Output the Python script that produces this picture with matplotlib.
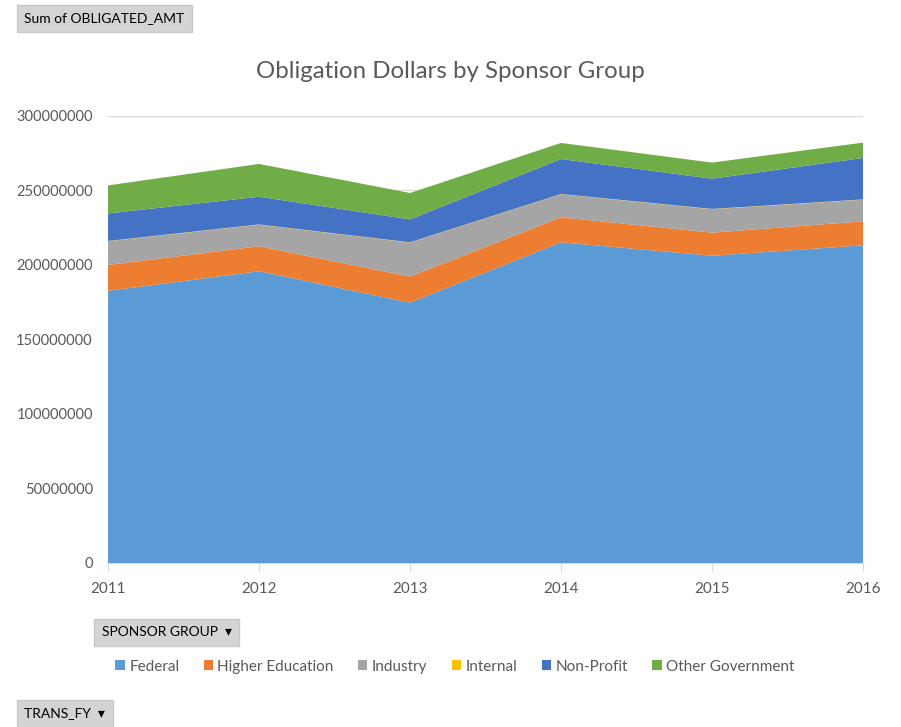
import matplotlib.pyplot as plt
import numpy as np

plt.rcParams['font.family'] = ['Lato', 'DejaVu Sans']

years = [2011, 2012, 2013, 2014, 2015, 2016]
groups = ['Federal', 'Higher Education', 'Industry', 'Internal', 'Non-Profit', 'Other Government']
# values in millions of dollars
federal = [182.6, 195.8, 174.7, 215.2, 206.2, 213.2]
higher_ed = [17.4, 16.8, 17.5, 16.8, 15.5, 16.1]
industry = [15.9, 14.4, 22.8, 15.4, 15.7, 14.5]
internal = [0.2, 0.2, 0.2, 0.2, 0.2, 0.2]
non_profit = [18.5, 18.6, 15.4, 23.5, 20.3, 27.8]
other_gov = [18.8, 22.0, 17.7, 10.8, 10.8, 10.3]
colors = ['#5B9BD5', '#ED7D31', '#A5A5A5', '#FFC000', '#4472C4', '#70AD47']

data = np.array([federal, higher_ed, industry, internal, non_profit, other_gov]) * 1e6

fig = plt.figure(figsize=(9.01, 7.27), dpi=100)
ax = fig.add_axes([0.1199, 0.2256, 0.838, 0.6149])
ax.stackplot(years, data, colors=colors, labels=groups, linewidth=0)

ax.set_xlim(2011, 2016)
ax.set_ylim(0, 300000000)
ax.set_yticks(np.arange(0, 300000001, 50000000))
ax.yaxis.set_major_formatter(plt.FuncFormatter(lambda v, p: '%d' % v))
ax.set_xticks(years)
ax.grid(axis='y', color='#d9d9d9', linewidth=1)
ax.set_axisbelow(True)
for s in ['top', 'right', 'left']:
    ax.spines[s].set_visible(False)
ax.spines['bottom'].set_color('#d9d9d9')
ax.tick_params(axis='y', length=0, labelsize=10.5, labelcolor='#595959', pad=11)
ax.tick_params(axis='x', length=6, color='#d9d9d9', labelsize=11, labelcolor='#595959', pad=8)

fig.text(0.5, 0.902, 'Obligation Dollars by Sponsor Group', ha='center', va='center',
         fontsize=17.3, color='#595959')

btn = dict(boxstyle='square,pad=0.55', facecolor='#d4d4d4', edgecolor='#c8c8c8')
fig.text(0.027, 0.975, 'Sum of OBLIGATED_AMT', fontsize=10, va='center', ha='left',
         bbox=btn)
fig.text(0.113, 0.13, 'SPONSOR GROUP  \u25be', fontsize=10, va='center', ha='left',
         bbox=btn)
fig.text(0.027, 0.019, 'TRANS_FY  \u25be', fontsize=10, va='center', ha='left',
         bbox=btn)

leg = fig.legend(loc='center', bbox_to_anchor=(0.505, 0.083), ncol=6, frameon=False,
                 fontsize=11, handlelength=0.6, handleheight=0.6, handletextpad=0.3,
                 columnspacing=1.6)
for t in leg.get_texts():
    t.set_color('#595959')

fig.savefig('out.png', dpi=100)
